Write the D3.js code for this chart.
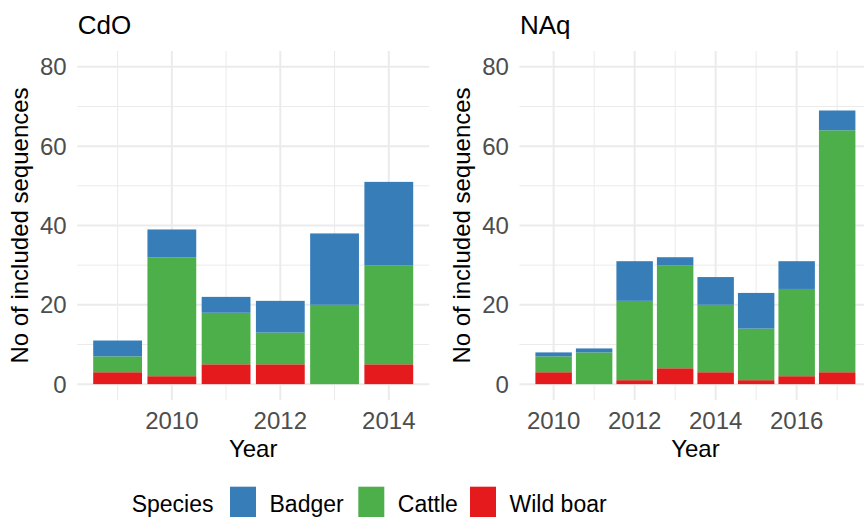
<!DOCTYPE html>
<html>
<head>
<meta charset="utf-8">
<script src="https://cdn.jsdelivr.net/npm/d3@7"></script>
<style>
  body { margin: 0; background: #fff; }
  svg { display: block; font-family: "Liberation Sans", Arial, sans-serif; }
</style>
</head>
<body>
<script>
// species, bottom to top of each stack
var species = ["Wild boar", "Cattle", "Badger"];
var legendOrder = ["Badger", "Cattle", "Wild boar"];
var speciesColor = {"Badger": "#377EB8", "Cattle": "#4DAF4A", "Wild boar": "#E41A1C"};

// CdO panel
var cdoYears = [2009, 2010, 2011, 2012, 2013, 2014];
var cdoWildBoar = [3, 2, 5, 5, 0, 5];
var cdoCattle = [4, 30, 13, 8, 20, 25];
var cdoBadger = [4, 7, 4, 8, 18, 21];

// NAq panel
var naqYears = [2010, 2011, 2012, 2013, 2014, 2015, 2016, 2017];
var naqWildBoar = [3, 0, 1, 4, 3, 1, 2, 3];
var naqCattle = [4, 8, 20, 26, 17, 13, 22, 61];
var naqBadger = [1, 1, 10, 2, 7, 9, 7, 5];

var yTicks = [0, 20, 40, 60, 80];
var yMinor = [10, 30, 50, 70];
var cdoTicks = [2010, 2012, 2014];
var naqTicks = [2010, 2012, 2014, 2016];

var W = 864, H = 517;
var svg = d3.select("body").append("svg")
    .attr("width", W)
    .attr("height", H);

var plotTop = 51, plotBottom = 400, plotW = 352;

// y scale shared by both panels (limits 0-80, 5% expansion)
var y = d3.scaleLinear().domain([-4, 84]).range([plotBottom, plotTop]);

var makeRows = function(years, boar, cattle, badger) {
    return years.map(function(yr, i) {
        return {"year": yr, "Wild boar": boar[i], "Cattle": cattle[i], "Badger": badger[i]};
    });
};

var drawPanel = function(left, title, rows, xTicks) {
    var g = svg.append("g");
    var yrs = rows.map(function(d) { return d.year; });
    var lo = d3.min(yrs) - 0.45, hi = d3.max(yrs) + 0.45;
    var pad = (hi - lo) * 0.05;
    var x = d3.scaleLinear().domain([lo - pad, hi + pad]).range([left, left + plotW]);

    // minor x grid halfway between major ticks
    var xMinor = [];
    for (var t = Math.floor(lo - pad); t <= hi + pad; t++) {
        if (t % 2 === 1 && t >= lo - pad) xMinor.push(t);
    }

    var grid = g.append("g").attr("stroke", "#EBEBEB");
    grid.selectAll(".ym").data(yMinor).enter().append("line")
        .attr("x1", left).attr("x2", left + plotW)
        .attr("y1", function(d) { return y(d); }).attr("y2", function(d) { return y(d); })
        .attr("stroke-width", 1);
    grid.selectAll(".xm").data(xMinor).enter().append("line")
        .attr("x1", function(d) { return x(d); }).attr("x2", function(d) { return x(d); })
        .attr("y1", plotTop).attr("y2", plotBottom)
        .attr("stroke-width", 1);
    grid.selectAll(".yM").data(yTicks).enter().append("line")
        .attr("x1", left).attr("x2", left + plotW)
        .attr("y1", function(d) { return y(d); }).attr("y2", function(d) { return y(d); })
        .attr("stroke-width", 2);
    grid.selectAll(".xM").data(xTicks).enter().append("line")
        .attr("x1", function(d) { return x(d); }).attr("x2", function(d) { return x(d); })
        .attr("y1", plotTop).attr("y2", plotBottom)
        .attr("stroke-width", 2);

    // stacked bars
    var stacked = d3.stack().keys(species)(rows);
    var bw = x(0.9) - x(0);
    g.selectAll(".layer").data(stacked).enter().append("g")
        .attr("fill", function(d) { return speciesColor[d.key]; })
        .selectAll("rect").data(function(d) { return d; }).enter().append("rect")
        .attr("x", function(d) { return x(d.data.year) - bw / 2; })
        .attr("width", bw)
        .attr("y", function(d) { return y(d[1]); })
        .attr("height", function(d) { return y(d[0]) - y(d[1]); });

    // tick labels
    g.selectAll(".yt").data(yTicks).enter().append("text")
        .attr("x", left - 10.5)
        .attr("y", function(d) { return y(d) + 8.5; })
        .attr("text-anchor", "end")
        .attr("font-size", "24px")
        .attr("fill", "#4D4D4D")
        .text(function(d) { return d; });
    g.selectAll(".xt").data(xTicks).enter().append("text")
        .attr("x", function(d) { return x(d); })
        .attr("y", 429)
        .attr("text-anchor", "middle")
        .attr("font-size", "24px")
        .attr("fill", "#4D4D4D")
        .text(function(d) { return d; });

    // axis titles + panel title
    g.append("text")
        .attr("x", left + plotW / 2).attr("y", 457)
        .attr("text-anchor", "middle")
        .attr("font-size", "24px")
        .text("Year");
    g.append("text")
        .attr("transform", "translate(" + (left - 49) + "," + ((plotTop + plotBottom) / 2) + ") rotate(-90)")
        .attr("text-anchor", "middle")
        .attr("font-size", "24px")
        .text("No of included sequences");
    g.append("text")
        .attr("x", left + 0.5).attr("y", 34)
        .attr("font-size", "26px")
        .text(title);
};

drawPanel(77.2, "CdO", makeRows(cdoYears, cdoWildBoar, cdoCattle, cdoBadger), cdoTicks);
drawPanel(519.4, "NAq", makeRows(naqYears, naqWildBoar, naqCattle, naqBadger), naqTicks);

// legend along the bottom (baseline kept high enough that descenders fit)
var legend = svg.append("g");
legend.append("text")
    .attr("x", 131.7).attr("y", 511.5)
    .attr("font-size", "23px")
    .text("Species");
var keyX = {"Badger": 230, "Cattle": 358.3, "Wild boar": 470};
legendOrder.forEach(function(s) {
    legend.append("rect")
        .attr("x", keyX[s]).attr("y", 486.7)
        .attr("width", 26).attr("height", 36)
        .attr("fill", speciesColor[s]);
    legend.append("text")
        .attr("x", keyX[s] + 39.5).attr("y", 511.5)
        .attr("font-size", "23px")
        .text(s);
});
</script>
</body>
</html>
